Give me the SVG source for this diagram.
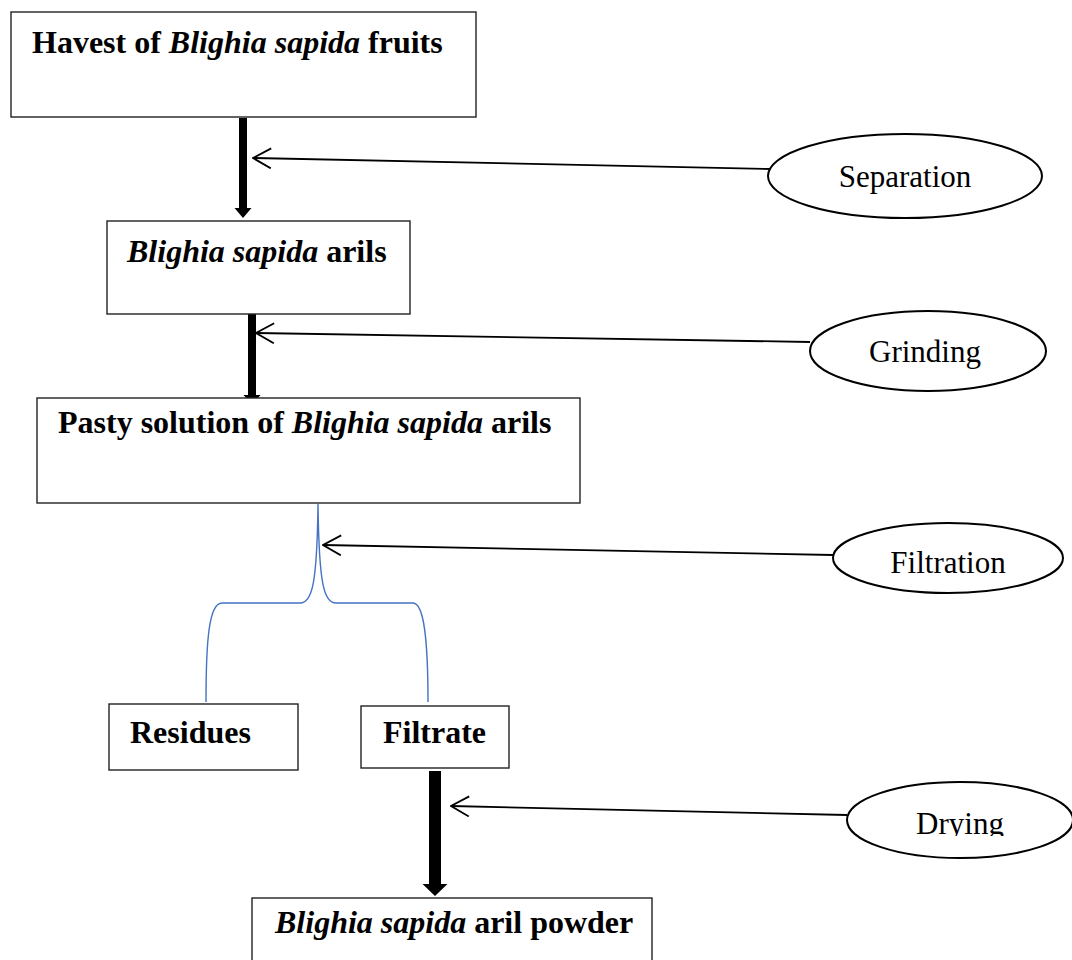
<svg xmlns="http://www.w3.org/2000/svg" width="1072" height="960" viewBox="0 0 1072 960">
<style>
.box{fill:#fff;stroke:#222;stroke-width:1.4}
.ell{fill:#fff;stroke:#000;stroke-width:2}
.t{font-family:"Liberation Serif","Times New Roman",serif;font-size:32px;font-weight:bold;fill:#000}
.i{font-style:italic}
.lbl{font-family:"Liberation Serif","Times New Roman",serif;font-size:31px;fill:#000;text-anchor:middle}
.thin{fill:none;stroke:#000;stroke-width:1.8}
.thick{fill:#000}
.brace{fill:none;stroke:#4472C4;stroke-width:1.4}
</style>
<defs>
<marker id="open" viewBox="0 0 20 22" refX="19" refY="11" markerWidth="20" markerHeight="22" markerUnits="userSpaceOnUse" orient="auto">
<path d="M1,1 L19,11 L1,21" fill="none" stroke="#000" stroke-width="1.8"/>
</marker>
<clipPath id="dryclip"><rect x="840" y="770" width="232" height="66"/></clipPath>
</defs>
<rect width="1072" height="960" fill="#fff"/>

<g id="connectors">
<path class="thick" d="M239,118 H247 V208 H251.5 L243,218 L234.5,208 H239 Z"/>
<path class="thick" d="M248,314 H256 V395 H260.5 L252,405 L243.5,395 H248 Z"/>
<path class="thick" d="M429,771 H441 V884 H447.5 L435,896 L422.5,884 H429 Z"/>
<line class="thin" x1="770" y1="169" x2="253" y2="158" marker-end="url(#open)"/>
<line class="thin" x1="810" y1="342" x2="256" y2="333" marker-end="url(#open)"/>
<line class="thin" x1="833" y1="555" x2="323" y2="545" marker-end="url(#open)"/>
<line class="thin" x1="847" y1="815" x2="451" y2="806" marker-end="url(#open)"/>
<path class="brace" d="M206,702 C206,640 209,603 222,603 L300,603 C312,603 317,585 318,504 C319,585 324,603 336,603 L413,603 C424,603 428,640 428,702"/>
</g>

<g id="harvest">
<rect class="box" x="11" y="12" width="465" height="105"/>
<text class="t" x="32" y="53">Havest of <tspan class="i">Blighia sapida</tspan> fruits</text>
</g>

<g id="arils">
<rect class="box" x="107" y="221" width="303" height="93"/>
<text class="t" x="127" y="262"><tspan class="i">Blighia sapida</tspan> arils</text>
</g>

<g id="pasty">
<rect class="box" x="37" y="398" width="543" height="105"/>
<text class="t" x="58" y="433">Pasty solution of <tspan class="i">Blighia sapida</tspan> arils</text>
</g>

<g id="residues">
<rect class="box" x="109" y="704" width="189" height="66"/>
<text class="t" x="130" y="743">Residues</text>
</g>

<g id="filtrate">
<rect class="box" x="361" y="706" width="148" height="62"/>
<text class="t" x="383" y="743">Filtrate</text>
</g>

<g id="powder">
<rect class="box" x="252" y="898" width="400" height="80"/>
<text class="t" x="275" y="933"><tspan class="i">Blighia sapida</tspan> aril powder</text>
</g>

<g id="separation">
<ellipse class="ell" cx="905" cy="176" rx="137" ry="42"/>
<text class="lbl" x="905" y="187">Separation</text>
</g>

<g id="grinding">
<ellipse class="ell" cx="928" cy="351" rx="118" ry="40"/>
<text class="lbl" x="925" y="362">Grinding</text>
</g>

<g id="filtration">
<ellipse class="ell" cx="948" cy="558" rx="115" ry="35"/>
<text class="lbl" x="948" y="573">Filtration</text>
</g>

<g id="drying">
<ellipse class="ell" cx="960" cy="820" rx="113" ry="38"/>
<text class="lbl" x="960" y="834" clip-path="url(#dryclip)">Drying</text>
</g>
</svg>
